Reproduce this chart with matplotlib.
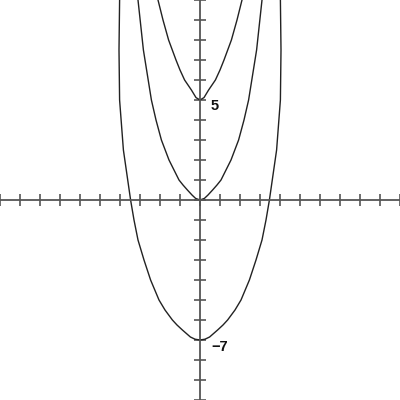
import numpy as np
import matplotlib
matplotlib.use("Agg")
import matplotlib.pyplot as plt

top_x = [0, 0.2, 0.43, 0.6, 0.77, 1.0, 1.2, 1.57, 1.85, 2.1, 2.2]
top_y = [5, 5.12, 5.5, 5.75, 6, 6.5, 7, 8, 9, 10, 10.5]

mid_x = [0, 0.22, 0.4, 0.63, 0.85, 1.05, 1.3, 1.55, 1.93, 2.2, 2.43, 2.83, 3.1, 3.15]
mid_y = [0, 0.08, 0.25, 0.5, 0.75, 1, 1.5, 2, 3, 4, 5, 7.5, 10, 10.5]

low_x = [0, 0.25, 0.48, 0.88, 1.15, 1.38, 1.75, 2.05, 2.47, 2.8, 3.1, 3.3, 3.47,
         3.83, 4.02, 4.05, 4.02, 4.02]
low_y = [-7, -6.96, -6.85, -6.5, -6.25, -6, -5.5, -5, -4, -3, -2, -1, 0,
         2.5, 5, 7.5, 10, 10.5]

ticks = list(range(-10, 11))
labels = ["5", "\u22127"]
label_pos = [(0.55, 4.7), (0.55, -7.35)]


def mirror(xs, ys):
    xs = np.array(xs)
    ys = np.array(ys)
    return np.concatenate([-xs[::-1], xs[1:]]), np.concatenate([ys[::-1], ys[1:]])


def main():
    fig = plt.figure(figsize=(4, 4), dpi=100)
    ax = fig.add_axes([0, 0, 1, 1])

    for xs, ys in [(top_x, top_y), (mid_x, mid_y), (low_x, low_y)]:
        x, y = mirror(xs, ys)
        ax.plot(x, y, color="#222222", lw=1.0, solid_joinstyle="round")

    ax.set_xlim(-10, 10)
    ax.set_ylim(-10, 10)

    # axes through the origin
    ax.spines["left"].set_position("zero")
    ax.spines["bottom"].set_position("zero")
    ax.spines["right"].set_visible(False)
    ax.spines["top"].set_visible(False)
    for s in ["left", "bottom"]:
        ax.spines[s].set_color("#555555")
        ax.spines[s].set_linewidth(1.3)

    ax.set_xticks(ticks)
    ax.set_yticks(ticks)
    ax.tick_params(direction="inout", length=8.5, width=1.2, color="#555555",
                   labelbottom=False, labelleft=False)

    for t, (x, y) in zip(labels, label_pos):
        ax.text(x, y, t, fontsize=10.5, fontweight="bold", family="Liberation Sans",
                color="#111111", ha="left", va="center")

    fig.savefig("out.png", dpi=100)


if __name__ == "__main__":
    main()
